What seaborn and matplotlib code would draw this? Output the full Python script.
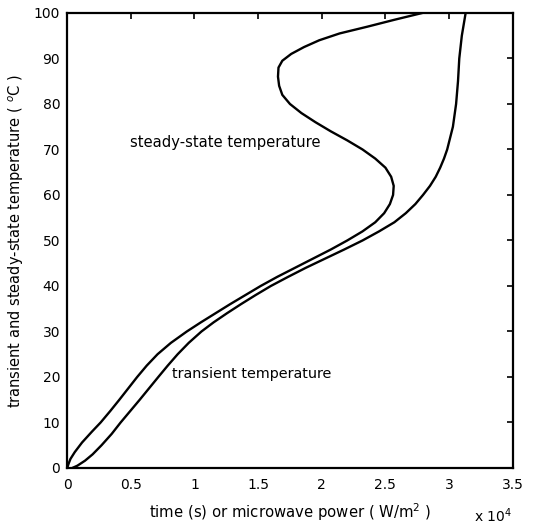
import matplotlib
matplotlib.use("Agg")
import matplotlib.pyplot as plt
import seaborn as sns
import pandas as pd

# steady-state curve: temperature (degC) vs microwave power (x 1e4 W/m^2)
steady_temp = [0, 1, 2, 3.5, 5.6, 8, 10, 12.5, 15, 17.5, 20, 22.5, 25, 27.5, 30, 32, 34, 36,
               38, 40, 42, 44, 46, 48, 50, 52, 54, 56, 58, 60, 62, 64, 66, 68, 70, 72, 74,
               76, 78, 80, 82, 84, 86, 88, 89.5, 91, 92.5, 94, 95.5, 97, 98.5, 100]
steady_x = [0.0, 0.012, 0.026, 0.06, 0.117, 0.195, 0.263, 0.338, 0.41, 0.48, 0.55, 0.625,
            0.71, 0.815, 0.94, 1.05, 1.165, 1.28, 1.40, 1.52, 1.65, 1.79, 1.93, 2.07, 2.20,
            2.32, 2.42, 2.49, 2.535, 2.56, 2.565, 2.545, 2.50, 2.42, 2.32, 2.20, 2.07,
            1.95, 1.84, 1.75, 1.69, 1.665, 1.656, 1.66, 1.69, 1.76, 1.86, 1.98, 2.14,
            2.36, 2.57, 2.79]

# transient curve: temperature (degC) vs time (x 1e4 s)
trans_temp = [0, 0.5, 1.6, 3, 5, 7.5, 10, 12.5, 15, 17.5, 20, 22.5, 25, 27.5, 30, 32, 34,
              36, 38, 40, 42, 44, 46, 48, 50, 52, 54, 56, 58, 60, 62, 64, 66, 68, 70, 75,
              80, 85, 90, 95, 100]
trans_x = [0.04, 0.08, 0.14, 0.20, 0.27, 0.35, 0.42, 0.495, 0.57, 0.643, 0.716, 0.79,
           0.868, 0.955, 1.055, 1.15, 1.255, 1.365, 1.48, 1.60, 1.735, 1.875, 2.025, 2.175,
           2.32, 2.45, 2.57, 2.66, 2.735, 2.795, 2.85, 2.895, 2.93, 2.96, 2.985, 3.03,
           3.055, 3.07, 3.08, 3.10, 3.13]

xticks = [0, 0.5, 1, 1.5, 2, 2.5, 3, 3.5]
xticklabels = ["0", "0.5", "1", "1.5", "2", "2.5", "3", "3.5"]
yticks = [0, 10, 20, 30, 40, 50, 60, 70, 80, 90, 100]

sns.set_style("white")
plt.rcParams["font.family"] = ["DejaVu Sans"]
plt.rcParams["mathtext.fontset"] = "dejavusans"
plt.rcParams["text.color"] = "black"
plt.rcParams["axes.labelcolor"] = "black"

fig = plt.figure(figsize=(5.33, 5.25), dpi=100)
ax = fig.add_axes([0.126, 0.1086, 0.836, 0.8667])

df_s = pd.DataFrame({"x": steady_x, "T": steady_temp})
df_t = pd.DataFrame({"x": trans_x, "T": trans_temp})
sns.lineplot(data=df_s, x="x", y="T", sort=False, estimator=None, color="black", lw=1.7, ax=ax)
sns.lineplot(data=df_t, x="x", y="T", sort=False, estimator=None, color="black", lw=1.7, ax=ax)

ax.set_xlim(0, 3.5)
ax.set_ylim(0, 100)
ax.set_xticks(xticks)
ax.set_xticklabels(xticklabels)
ax.set_yticks(yticks)
ax.tick_params(direction="in", length=4, width=1.2, top=True, right=True,
               labelsize=10, colors="black")
ax.tick_params(axis="x", pad=7)
ax.tick_params(axis="y", pad=5)
for s in ax.spines.values():
    s.set_visible(True)
    s.set_color("black")
    s.set_linewidth(1.6)

ax.set_xlabel("time (s) or microwave power ( W/m$^2$ )", fontsize=10.7, labelpad=7)
ax.set_ylabel("transient and steady-state temperature ( $^{o}$C )", fontsize=10.5, labelpad=6)

ax.text(0.495, 71.6, "steady-state temperature", fontsize=10.6, va="center", ha="left")
ax.text(0.82, 20.7, "transient temperature", fontsize=10.4, va="center", ha="left")
fig.text(0.889, 0.018, "x 10$^4$", fontsize=10, ha="left", va="center")

fig.savefig("out.png", dpi=100)
